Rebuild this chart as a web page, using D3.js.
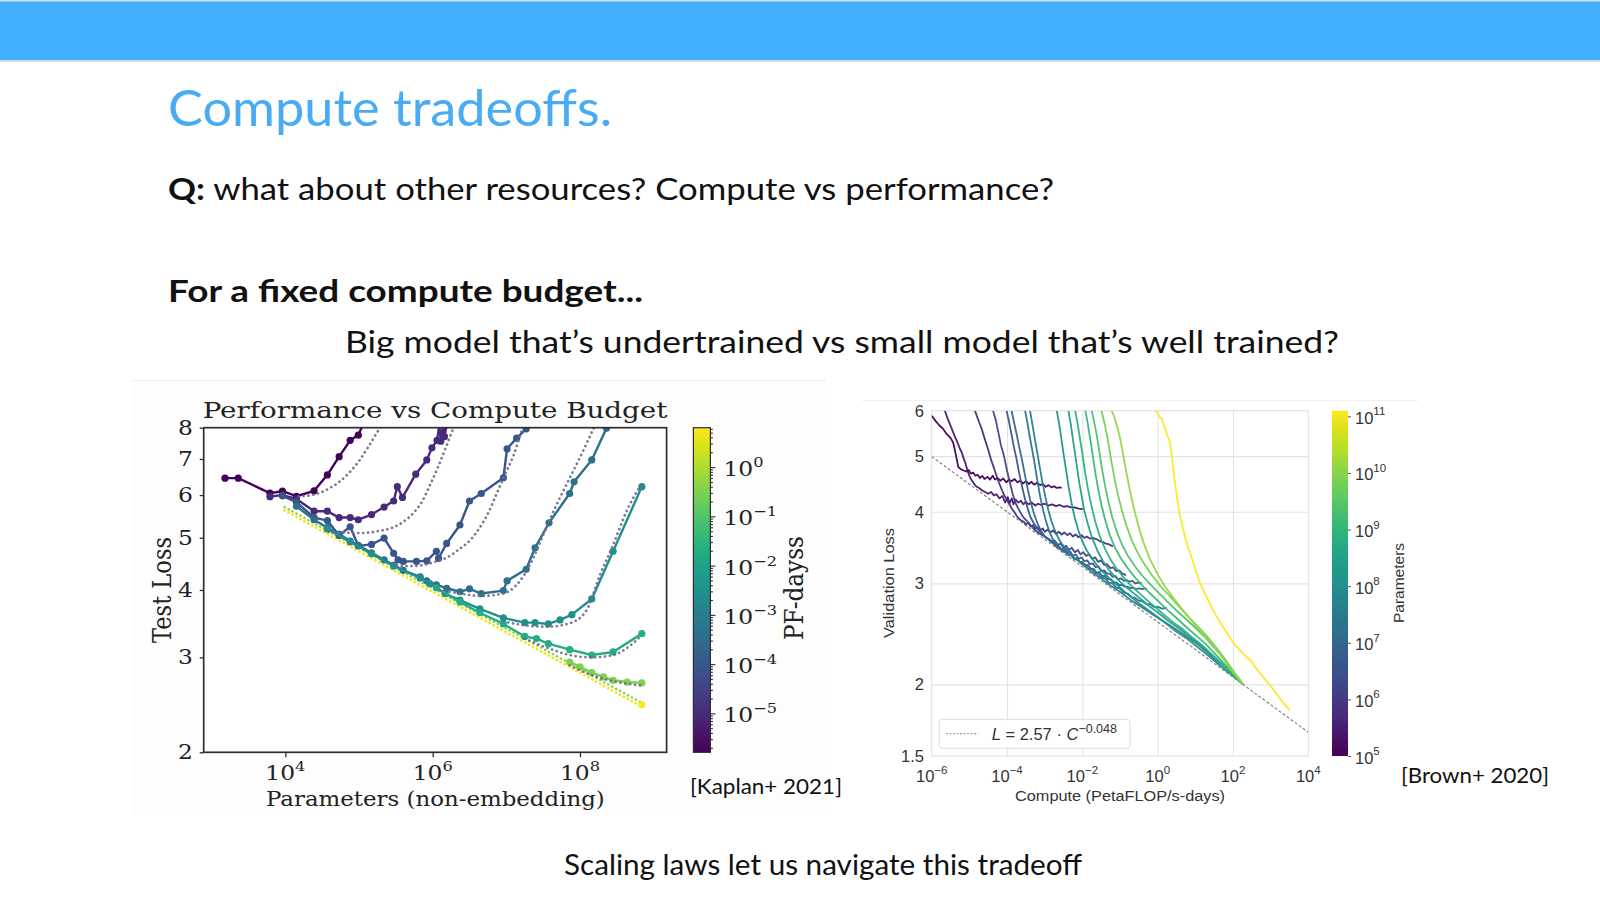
<!DOCTYPE html>
<html><head><meta charset="utf-8">
<script src="https://cdn.jsdelivr.net/npm/d3@7/dist/d3.min.js"></script>
<style>html,body{margin:0;padding:0;background:#fff;} svg{display:block;}</style>
</head><body>
<svg id="slide" width="1600" height="900"></svg>
<script>
// ---------------- slide text ----------------
const slideTitle = "Compute tradeoffs.";
const questionLead = "Q:";
const questionText = " what about other resources? Compute vs performance?";
const budgetText = "For a fixed compute budget...";
const tradeoffText = "Big model that\u2019s undertrained vs small model that\u2019s well trained?";
const footerText = "Scaling laws let us navigate this tradeoff";
const kaplanCite = "[Kaplan+ 2021]";
const brownCite = "[Brown+ 2020]";

// ---------------- Kaplan chart: [log10(params), test loss] ----------------
const kaplanTitle = "Performance vs Compute Budget";
const kaplanXLabel = "Parameters (non-embedding)";
const kaplanYLabel = "Test Loss";
const kaplanCbarLabel = "PF-dayss";
const kaplanXDomain = [778, 1.5e9];
const kaplanYDomain = [2, 8];
const kaplanCbarDomain = [-5.79, 0.8];          // log10 PF-days
const kaplanYTicks = [2, 3, 4, 5, 6, 7, 8];
const kaplanXTickExps = [4, 6, 8];
const kaplanCbarTickExps = [0, -1, -2, -3, -4, -5];
const kaplanComputeExp = [-5.75, -5.0, -4.05, -3.4, -2.5, -1.7, -0.5, 0.75];

const kaplanC1 = [[3.18,6.45],[3.36,6.45],[3.79,6.05],[3.96,6.10],[4.15,5.97],[4.39,6.11],[4.57,6.54],[4.73,7.07],[4.88,7.58],[4.99,7.75],[5.06,8.15]];
const kaplanC2 = [[3.79,5.96],[3.96,6.0],[4.15,5.90],[4.39,5.60],[4.57,5.60],[4.73,5.45],[4.88,5.45],[4.99,5.40],[5.17,5.52],[5.34,5.70],[5.47,5.85],[5.52,6.22],[5.59,5.94],[5.77,6.56],[5.92,6.97],[5.99,7.34],[6.06,7.58],[6.09,8.1],[6.11,7.55],[6.14,8.1],[6.16,7.7],[6.19,8.1]];
const kaplanC3 = [[3.96,5.98],[4.15,5.82],[4.39,5.45],[4.57,5.38],[4.73,5.05],[4.88,5.24],[4.99,4.83],[5.17,4.86],[5.34,4.99],[5.47,4.68],[5.53,4.55],[5.60,4.52],[5.78,4.52],[5.92,4.53],[6.05,4.72],[6.08,4.58],[6.19,4.88],[6.37,5.28],[6.50,5.85],[6.66,6.04],[6.96,6.46],[7.01,7.31],[7.14,7.65],[7.27,7.96],[7.32,8.2]];
const kaplanC4 = [[4.15,5.72],[4.39,5.40],[4.57,5.22],[4.73,5.08],[4.88,4.93],[4.99,4.84],[5.17,4.69],[5.34,4.55],[5.47,4.45],[5.60,4.35],[5.83,4.23],[5.92,4.16],[6.05,4.09],[6.19,4.03],[6.37,3.97],[6.50,4.02],[6.66,3.94],[6.96,3.99],[7.01,4.16],[7.27,4.37],[7.39,4.79],[7.58,5.33],[7.86,6.04],[7.92,6.35],[8.16,6.97],[8.36,7.98],[8.40,8.2]];
const kaplanC5 = [[4.57,5.19],[4.88,4.91],[5.17,4.67],[5.47,4.43],[5.83,4.21],[5.96,4.11],[6.17,3.94],[6.37,3.83],[6.64,3.69],[6.96,3.55],[7.25,3.48],[7.39,3.48],[7.57,3.46],[7.73,3.52],[7.89,3.60],[8.16,3.85],[8.45,4.72],[8.84,6.22]];
const kaplanC6 = [[6.05,4.04],[6.37,3.80],[6.64,3.63],[6.96,3.46],[7.25,3.28],[7.41,3.25],[7.57,3.18],[7.86,3.10],[8.16,3.03],[8.45,3.07],[8.84,3.32]];
const kaplanC7 = [[7.86,2.94],[8.0,2.88],[8.16,2.81],[8.32,2.76],[8.45,2.72],[8.64,2.70],[8.84,2.69]];
const kaplanC8 = [[8.84,2.45]];

const kaplanFit1 = [[4.18,5.97],[4.33,5.99],[4.47,6.06],[4.60,6.18],[4.74,6.36],[4.88,6.63],[5.01,6.97],[5.12,7.35],[5.24,7.82],[5.31,8.1]];
const kaplanFit2 = [[4.59,5.13],[4.8,5.11],[5.0,5.10],[5.25,5.14],[5.45,5.22],[5.6,5.35],[5.75,5.58],[5.86,5.85],[5.96,6.25],[6.07,6.75],[6.17,7.3],[6.26,7.85],[6.3,8.1]];
const kaplanFit3 = [[5.45,4.48],[5.6,4.43],[5.75,4.43],[5.9,4.46],[6.05,4.52],[6.2,4.6],[6.35,4.75],[6.51,4.95],[6.63,5.2],[6.74,5.51],[6.87,6.04],[6.98,6.54],[7.10,7.12],[7.19,7.76],[7.24,8.1]];
const kaplanFit4 = [[6.1,4.00],[6.37,3.94],[6.64,3.90],[6.96,3.94],[7.14,4.09],[7.32,4.45],[7.50,5.06],[7.68,5.75],[7.86,6.45],[8.04,7.23],[8.18,7.95],[8.21,8.1]];
const kaplanFit5 = [[6.96,3.50],[7.25,3.44],[7.55,3.42],[7.86,3.47],[8.09,3.67],[8.27,4.26],[8.45,4.85],[8.63,5.59],[8.84,6.31]];
const kaplanFit6 = [[7.25,3.25],[7.57,3.12],[7.86,3.03],[8.16,3.0],[8.45,3.03],[8.65,3.13],[8.84,3.30]];
const kaplanFit7 = [[7.86,2.90],[8.16,2.78],[8.45,2.71],[8.84,2.66]];
const kaplanEnvUpper = [[3.99,5.70],[8.84,2.47]];
const kaplanEnvLower = [[3.99,5.62],[8.84,2.43]];

// ---------------- Brown chart: [log10(PF-days), validation loss] ----------------
const brownXLabel = "Compute (PetaFLOP/s-days)";
const brownYLabel = "Validation Loss";
const brownCbarLabel = "Parameters";
const brownXDomain = [1e-6, 1e4];
const brownYDomain = [1.5, 6];
const brownCbarDomain = [5, 11.1];               // log10 params
const brownXTickExps = [-6, -4, -2, 0, 2, 4];
const brownYTicks = [1.5, 2, 3, 4, 5, 6];
const brownCbarTickExps = [5, 6, 7, 8, 9, 10, 11];
const brownFitLabelCoef = "2.57";
const brownFitLabelExp = "\u22120.048";
const brownFit = [[-6, 4.99], [4, 1.65]];
const brownParamExp = [5.0, 5.4, 5.8, 6.2, 6.6, 7.0, 7.3, 7.6, 8.1, 8.5, 8.9, 9.1, 9.4, 9.8, 10.1, 11.2];

const brownA = [[-6.0,5.88],[-5.9,5.76],[-5.8,5.66],[-5.69,5.57],[-5.6,5.46],[-5.5,5.38],[-5.43,5.28],[-5.38,5.1],[-5.33,4.92],[-5.29,4.78],[-5.22,4.74],[-5.15,4.72],[-5.08,4.70],[-5.02,4.73],[-4.96,4.66],[-4.9,4.68],[-4.84,4.62],[-4.78,4.64],[-4.72,4.58],[-4.66,4.62],[-4.6,4.56],[-4.52,4.6],[-4.45,4.55],[-4.38,4.62],[-4.32,4.55],[-4.25,4.58],[-4.18,4.53],[-4.1,4.57],[-4.02,4.5],[-3.95,4.55],[-3.88,4.52],[-3.8,4.56],[-3.72,4.5],[-3.65,4.53],[-3.58,4.48],[-3.5,4.52],[-3.42,4.47],[-3.35,4.51],[-3.28,4.46],[-3.2,4.49],[-3.12,4.45],[-3.05,4.47],[-2.97,4.42],[-2.9,4.45],[-2.82,4.41],[-2.75,4.43],[-2.68,4.40],[-2.6,4.41],[-2.55,4.40]];
const brownB = [[-5.65,6.0],[-5.58,5.82],[-5.5,5.65],[-5.43,5.50],[-5.37,5.38],[-5.3,5.25],[-5.25,5.15],[-5.2,5.07],[-5.15,4.95],[-5.1,4.85],[-5.05,4.72],[-5.0,4.62],[-4.95,4.55],[-4.9,4.50],[-4.85,4.45],[-4.8,4.42],[-4.72,4.39],[-4.67,4.36],[-4.58,4.33],[-4.5,4.30],[-4.42,4.33],[-4.35,4.27],[-4.28,4.29],[-4.2,4.22],[-4.12,4.26],[-4.05,4.15],[-3.98,4.24],[-3.93,4.14],[-3.87,4.22],[-3.83,4.12],[-3.77,4.2],[-3.7,4.15],[-3.63,4.18],[-3.57,4.12],[-3.5,4.16],[-3.42,4.12],[-3.35,4.15],[-3.25,4.10],[-3.18,4.13],[-3.1,4.11],[-3.0,4.13],[-2.9,4.10],[-2.8,4.12],[-2.7,4.09],[-2.6,4.11],[-2.5,4.08],[-2.4,4.09],[-2.3,4.07],[-2.2,4.07],[-2.1,4.05],[-1.99,4.04]];
const brownC = [[-4.85,6.0],[-4.8,5.87],[-4.75,5.75],[-4.67,5.57],[-4.6,5.38],[-4.5,5.13],[-4.42,4.92],[-4.32,4.71],[-4.23,4.52],[-4.14,4.37],[-4.07,4.27],[-4.0,4.2],[-3.95,4.13],[-3.9,4.08],[-3.85,4.03],[-3.8,3.99],[-3.75,3.94],[-3.7,3.90],[-3.62,3.86],[-3.55,3.84],[-3.5,3.80],[-3.43,3.83],[-3.38,3.77],[-3.3,3.79],[-3.25,3.73],[-3.18,3.76],[-3.12,3.71],[-3.05,3.74],[-3.0,3.69],[-2.92,3.72],[-2.85,3.68],[-2.78,3.71],[-2.7,3.66],[-2.62,3.69],[-2.55,3.65],[-2.48,3.68],[-2.4,3.64],[-2.33,3.67],[-2.25,3.62],[-2.18,3.65],[-2.1,3.61],[-2.02,3.64],[-1.95,3.60],[-1.88,3.62],[-1.8,3.59],[-1.72,3.6],[-1.62,3.58],[-1.52,3.55],[-1.45,3.54],[-1.38,3.52],[-1.3,3.51],[-1.19,3.48]];
const brownD = [[-4.37,6.0],[-4.3,5.78],[-4.23,5.5],[-4.16,5.22],[-4.08,5.0],[-4.0,4.72],[-3.92,4.48],[-3.85,4.3],[-3.78,4.15],[-3.7,4.05],[-3.62,3.96],[-3.55,3.9],[-3.48,3.86],[-3.4,3.8],[-3.33,3.76],[-3.25,3.71],[-3.18,3.68],[-3.1,3.65],[-3.02,3.63],[-2.95,3.60],[-2.88,3.58],[-2.8,3.55],[-2.73,3.56],[-2.65,3.50],[-2.58,3.52],[-2.5,3.46],[-2.43,3.49],[-2.36,3.43],[-2.28,3.46],[-2.2,3.40],[-2.12,3.43],[-2.05,3.37],[-1.98,3.40],[-1.9,3.35],[-1.82,3.37],[-1.74,3.31],[-1.66,3.33],[-1.58,3.27],[-1.5,3.29],[-1.42,3.23],[-1.34,3.24],[-1.26,3.19],[-1.18,3.2],[-1.1,3.15],[-1.02,3.16],[-0.94,3.12],[-0.84,3.10]];
const brownE = [[-4.01,6.0],[-3.95,5.75],[-3.88,5.45],[-3.82,5.2],[-3.75,4.95],[-3.68,4.68],[-3.6,4.42],[-3.52,4.2],[-3.45,4.05],[-3.38,3.92],[-3.3,3.83],[-3.22,3.76],[-3.15,3.70],[-3.07,3.66],[-3.0,3.62],[-2.93,3.6],[-2.86,3.56],[-2.78,3.54],[-2.7,3.50],[-2.62,3.48],[-2.55,3.44],[-2.47,3.45],[-2.4,3.39],[-2.32,3.41],[-2.25,3.35],[-2.17,3.37],[-2.1,3.31],[-2.02,3.33],[-1.95,3.28],[-1.87,3.29],[-1.8,3.24],[-1.72,3.25],[-1.65,3.2],[-1.57,3.21],[-1.5,3.15],[-1.42,3.16],[-1.35,3.12],[-1.27,3.12],[-1.2,3.08],[-1.12,3.09],[-1.05,3.05],[-0.97,3.06],[-0.9,3.03],[-0.82,3.04],[-0.75,3.02],[-0.67,3.03],[-0.6,3.0],[-0.5,3.01],[-0.42,3.0]];
const brownF = [[-3.88,6.0],[-3.82,5.75],[-3.75,5.48],[-3.68,5.2],[-3.6,4.92],[-3.52,4.62],[-3.45,4.38],[-3.38,4.18],[-3.3,4.0],[-3.22,3.86],[-3.14,3.75],[-3.06,3.67],[-2.98,3.61],[-2.9,3.58],[-2.82,3.54],[-2.75,3.51],[-2.68,3.47],[-2.6,3.45],[-2.52,3.41],[-2.45,3.40],[-2.37,3.36],[-2.3,3.36],[-2.22,3.31],[-2.15,3.32],[-2.07,3.27],[-2.0,3.27],[-1.92,3.22],[-1.85,3.23],[-1.77,3.18],[-1.7,3.18],[-1.62,3.13],[-1.55,3.14],[-1.47,3.09],[-1.4,3.09],[-1.32,3.05],[-1.25,3.05],[-1.17,3.01],[-1.1,3.01],[-1.02,2.98],[-0.95,2.98],[-0.87,2.96],[-0.8,2.96],[-0.72,2.94],[-0.65,2.95],[-0.57,2.93],[-0.5,2.94],[-0.4,2.93],[-0.29,2.94]];
const brownG = [[-3.52,6.0],[-3.46,5.72],[-3.4,5.42],[-3.33,5.12],[-3.26,4.82],[-3.19,4.52],[-3.12,4.25],[-3.04,4.02],[-2.96,3.84],[-2.88,3.7],[-2.8,3.6],[-2.72,3.53],[-2.64,3.48],[-2.55,3.44],[-2.47,3.42],[-2.38,3.37],[-2.3,3.36],[-2.21,3.31],[-2.12,3.30],[-2.03,3.25],[-1.94,3.24],[-1.85,3.19],[-1.76,3.18],[-1.67,3.13],[-1.58,3.12],[-1.49,3.07],[-1.4,3.06],[-1.3,3.01],[-1.2,3.0],[-1.1,2.95],[-1.0,2.94],[-0.9,2.89],[-0.8,2.88],[-0.7,2.84],[-0.6,2.83],[-0.5,2.8],[-0.4,2.79],[-0.3,2.76],[-0.2,2.76],[-0.1,2.73],[0.0,2.73],[0.12,2.71],[0.24,2.72]];
const brownH = [[-3.39,6.0],[-3.33,5.7],[-3.27,5.4],[-3.2,5.08],[-3.13,4.78],[-3.06,4.5],[-2.98,4.24],[-2.9,4.02],[-2.82,3.85],[-2.73,3.71],[-2.64,3.6],[-2.55,3.52],[-2.46,3.46],[-2.37,3.4],[-2.28,3.36],[-2.19,3.31],[-2.1,3.28],[-2.0,3.24],[-1.9,3.2],[-1.8,3.16],[-1.7,3.12],[-1.6,3.09],[-1.5,3.06],[-1.4,3.02],[-1.3,2.99],[-1.2,2.96],[-1.1,2.93],[-1.0,2.9],[-0.85,2.85],[-0.7,2.8],[-0.55,2.76],[-0.4,2.72],[-0.25,2.68],[-0.1,2.64],[0.1,2.59],[0.3,2.54],[0.5,2.49],[0.7,2.44],[0.9,2.39],[1.1,2.34],[1.3,2.28],[1.5,2.21],[1.65,2.16]];
const brownI = [[-2.68,6.0],[-2.62,5.72],[-2.56,5.38],[-2.5,5.05],[-2.43,4.72],[-2.36,4.4],[-2.28,4.12],[-2.2,3.9],[-2.1,3.7],[-2.0,3.55],[-1.88,3.42],[-1.75,3.32],[-1.6,3.22],[-1.45,3.14],[-1.3,3.07],[-1.15,3.01],[-1.0,2.95],[-0.85,2.89],[-0.7,2.84],[-0.5,2.77],[-0.3,2.71],[-0.1,2.65],[0.1,2.59],[0.3,2.53],[0.5,2.47],[0.75,2.41],[1.0,2.34],[1.25,2.27],[1.5,2.2],[1.75,2.13],[2.0,2.07],[2.27,2.0]];
const brownJ = [[-2.37,6.0],[-2.31,5.7],[-2.25,5.35],[-2.18,4.98],[-2.11,4.62],[-2.03,4.3],[-1.95,4.02],[-1.85,3.8],[-1.74,3.6],[-1.6,3.42],[-1.45,3.28],[-1.3,3.17],[-1.15,3.09],[-1.0,3.02],[-0.8,2.94],[-0.6,2.87],[-0.4,2.8],[-0.2,2.73],[0.0,2.67],[0.25,2.59],[0.5,2.52],[0.75,2.45],[1.0,2.38],[1.25,2.31],[1.5,2.23],[1.75,2.15],[2.0,2.08],[2.27,2.0]];
const brownK = [[-2.19,6.0],[-2.13,5.72],[-2.07,5.4],[-2.0,5.05],[-1.93,4.7],[-1.85,4.38],[-1.76,4.1],[-1.66,3.85],[-1.54,3.63],[-1.4,3.45],[-1.25,3.3],[-1.1,3.19],[-0.9,3.07],[-0.7,2.97],[-0.5,2.89],[-0.3,2.81],[-0.1,2.74],[0.15,2.65],[0.4,2.57],[0.65,2.5],[0.9,2.42],[1.15,2.35],[1.4,2.27],[1.65,2.19],[1.9,2.11],[2.1,2.05],[2.27,2.0]];
const brownL = [[-1.92,6.0],[-1.86,5.72],[-1.8,5.4],[-1.73,5.05],[-1.66,4.7],[-1.58,4.38],[-1.49,4.1],[-1.39,3.86],[-1.27,3.64],[-1.13,3.46],[-0.97,3.31],[-0.8,3.19],[-0.6,3.07],[-0.4,2.97],[-0.2,2.88],[0.0,2.8],[0.25,2.7],[0.5,2.61],[0.75,2.52],[1.0,2.44],[1.25,2.36],[1.5,2.27],[1.75,2.18],[2.0,2.09],[2.27,2.0]];
const brownM = [[-1.75,6.0],[-1.69,5.75],[-1.62,5.45],[-1.55,5.1],[-1.48,4.76],[-1.4,4.45],[-1.31,4.17],[-1.21,3.92],[-1.09,3.7],[-0.95,3.51],[-0.79,3.35],[-0.6,3.21],[-0.4,3.09],[-0.2,2.99],[0.0,2.9],[0.25,2.79],[0.5,2.69],[0.75,2.6],[1.0,2.51],[1.25,2.42],[1.5,2.32],[1.75,2.22],[2.0,2.11],[2.27,2.0]];
const brownN = [[-1.49,6.0],[-1.43,5.78],[-1.36,5.5],[-1.29,5.18],[-1.22,4.86],[-1.14,4.55],[-1.05,4.27],[-0.95,4.02],[-0.83,3.78],[-0.69,3.57],[-0.53,3.39],[-0.35,3.24],[-0.15,3.1],[0.05,2.98],[0.3,2.86],[0.55,2.74],[0.8,2.63],[1.05,2.53],[1.3,2.43],[1.55,2.32],[1.8,2.21],[2.05,2.09],[2.27,2.0]];
const brownO = [[-1.22,6.0],[-1.15,5.85],[-1.08,5.65],[-1.0,5.38],[-0.92,5.05],[-0.84,4.72],[-0.75,4.4],[-0.65,4.1],[-0.52,3.8],[-0.38,3.54],[-0.2,3.3],[0.0,3.11],[0.2,2.96],[0.45,2.81],[0.7,2.68],[0.95,2.56],[1.2,2.45],[1.45,2.35],[1.7,2.24],[1.95,2.12],[2.15,2.04],[2.27,2.0]];
const brownY = [[-0.07,6.0],[0.0,5.95],[0.05,5.85],[0.11,5.81],[0.18,5.62],[0.25,5.45],[0.33,5.28],[0.38,5.0],[0.42,4.72],[0.46,4.49],[0.52,4.2],[0.59,3.94],[0.68,3.72],[0.77,3.53],[0.9,3.33],[1.0,3.18],[1.12,3.01],[1.3,2.84],[1.45,2.71],[1.57,2.62],[1.75,2.51],[2.01,2.36],[2.25,2.27],[2.5,2.19],[2.62,2.13],[2.8,2.06],[3.07,1.96],[3.3,1.87],[3.51,1.80]];

// ---------------- drawing ----------------
const svg = d3.select('#slide');
const defs = svg.append('defs');
const SANS = 'Lato, "Open Sans", "Noto Sans", sans-serif';
const SERIF = '"DejaVu Serif", serif';
const ARIAL = '"Liberation Sans", Arial, sans-serif';
const minus = e => (e < 0 ? '\u2212' + Math.abs(e) : String(e));

// header bar
svg.append('rect').attr('x',0).attr('y',0).attr('width',1600).attr('height',62).attr('fill','#d4dce1');
svg.append('rect').attr('x',0).attr('y',1.5).attr('width',1600).attr('height',58.5).attr('fill','#42aeff');

// image backgrounds (behind everything else)
svg.append('rect').attr('x',132).attr('y',380).attr('width',694).attr('height',436).attr('fill','#fdfdfd');
svg.append('line').attr('x1',132).attr('x2',826).attr('y1',380.5).attr('y2',380.5).attr('stroke','#ededed');
svg.append('line').attr('x1',862).attr('x2',1418).attr('y1',400.5).attr('y2',400.5).attr('stroke','#f0f0f0');

function slideText(x, y, size, len, parts, fill) {
  const t = svg.append('text').attr('x',x).attr('y',y).attr('font-family',SANS)
    .attr('font-size',size).attr('fill',fill || '#111')
    .attr('textLength',len).attr('lengthAdjust','spacingAndGlyphs');
  parts.forEach(p => t.append('tspan').attr('font-weight', p[1] || 'normal').text(p[0]));
  return t;
}
slideText(168, 126, 50, 444, [[slideTitle]], '#47acf4');
slideText(168, 200, 30, 886, [[questionLead,'bold'],[questionText]]);
slideText(168, 301.5, 30, 475, [[budgetText,'bold']]);
slideText(345, 353, 30, 994, [[tradeoffText]]);
slideText(564, 875, 29, 518, [[footerText]]);
slideText(690, 794, 22, 152, [[kaplanCite]]);
slideText(1401, 783, 22, 148, [[brownCite]]);

function vGradient(id) {
  const g = defs.append('linearGradient').attr('id',id).attr('x1',0).attr('y1',1).attr('x2',0).attr('y2',0);
  d3.range(0, 1.0001, 0.05).forEach(t => g.append('stop').attr('offset', t).attr('stop-color', d3.interpolateViridis(t)));
}
vGradient('viridisK'); vGradient('viridisB');

function supText(parent, base, exp, expSize, rise) {
  parent.append('tspan').text(base);
  parent.append('tspan').attr('font-size', expSize).attr('dy', -rise).text(exp);
}
// horizontally stretched text (the Kaplan figure was scaled wider than tall)
function stretchedText(x, y, width, size, str) {
  const g = svg.append('g');
  const t = g.append('text').attr('font-family',SERIF).attr('font-size',size).attr('fill','#222').text(str);
  const natural = t.node().getComputedTextLength();
  g.attr('transform', `translate(${x},${y}) scale(${width / natural},1)`);
}

// ======== Kaplan chart ========
const KL = 203.7, KR = 666.6, KT = 427.7, KB = 752.3, KS = 1.2;
const kx = d3.scaleLog().domain(kaplanXDomain).range([KL, KR]);
const ky = d3.scaleLog().domain(kaplanYDomain).range([KB, KT]);
const kc = d3.scaleLinear().domain(kaplanCbarDomain).range([KB, KT]);
const kColor = d3.scaleSequential(d3.interpolateViridis).domain(kaplanCbarDomain);

svg.append('rect').attr('x',KL).attr('y',KT).attr('width',KR-KL).attr('height',KB-KT).attr('fill','#fff');
defs.append('clipPath').attr('id','kclip').append('rect').attr('x',KL).attr('y',KT).attr('width',KR-KL).attr('height',KB-KT);
const kg = svg.append('g').attr('clip-path','url(#kclip)');
const kLine = d3.line().x(d => kx(Math.pow(10, d[0]))).y(d => ky(d[1]));

// envelope (dotted)
kg.append('path').datum(kaplanEnvLower).attr('d',kLine).attr('fill','none').attr('stroke','#f4e61e')
  .attr('stroke-width',2.8).attr('stroke-dasharray','0.1,4.4').attr('stroke-linecap','round');
kg.append('path').datum(kaplanEnvUpper).attr('d',kLine).attr('fill','none').attr('stroke','#8cd34a')
  .attr('stroke-width',2.6).attr('stroke-dasharray','0.1,4.4').attr('stroke-linecap','round');

const kaplanCurves = [kaplanC1,kaplanC2,kaplanC3,kaplanC4,kaplanC5,kaplanC6,kaplanC7,kaplanC8];
const kaplanFits = [kaplanFit1,kaplanFit2,kaplanFit3,kaplanFit4,kaplanFit5,kaplanFit6,kaplanFit7];
kaplanCurves.forEach((c, i) => {
  const col = kColor(kaplanComputeExp[i]);
  kg.append('path').datum(c).attr('d',kLine).attr('fill','none').attr('stroke',col)
    .attr('stroke-width',2.4).attr('stroke-linejoin','round');
  kg.selectAll(null).data(c).enter().append('circle')
    .attr('cx', d => kx(Math.pow(10, d[0]))).attr('cy', d => ky(d[1])).attr('r', 3.6).attr('fill', col);
});
kaplanFits.forEach(f => {
  kg.append('path').datum(f).attr('d', d3.line().curve(d3.curveMonotoneX).x(d => kx(Math.pow(10,d[0]))).y(d => ky(d[1])))
    .attr('fill','none').attr('stroke','#6e6c86').attr('stroke-width',2.7)
    .attr('stroke-dasharray','0.1,4.8').attr('stroke-linecap','round').attr('opacity',0.9);
});

// frame
svg.append('rect').attr('x',KL).attr('y',KT).attr('width',KR-KL).attr('height',KB-KT)
  .attr('fill','none').attr('stroke','#2e2e2e').attr('stroke-width',1.7);

// y ticks
const kyAxis = svg.append('g').attr('transform',`translate(${KL},0)`)
  .call(d3.axisLeft(ky).tickValues(kaplanYTicks).tickFormat('').tickSize(4).tickSizeOuter(0));
kyAxis.select('.domain').remove();
kyAxis.selectAll('line').attr('stroke','#2e2e2e').attr('stroke-width',1.3);
kaplanYTicks.forEach(v => {
  svg.append('g').attr('transform',`translate(193,${ky(v)+7}) scale(${KS},1)`)
    .append('text').attr('text-anchor','end').attr('font-family',SERIF).attr('font-size',19.5)
    .attr('fill','#222').text(v);
});
// x ticks
const kxAxis = svg.append('g').attr('transform',`translate(0,${KB})`)
  .call(d3.axisBottom(kx).tickValues(kaplanXTickExps.map(e => Math.pow(10,e))).tickFormat('').tickSize(5).tickSizeOuter(0));
kxAxis.select('.domain').remove();
kxAxis.selectAll('line').attr('stroke','#2e2e2e').attr('stroke-width',1.3);
kaplanXTickExps.forEach(e => {
  const t = svg.append('g').attr('transform',`translate(${kx(Math.pow(10,e))},780) scale(${KS},1)`)
    .append('text').attr('text-anchor','middle').attr('font-family',SERIF).attr('font-size',19.5).attr('fill','#222');
  supText(t, '10', minus(e), 13.5, 9);
});
// title & labels
stretchedText(KL - 1, 418, 465, 21.5, kaplanTitle);
stretchedText(266, 806, 339, 20.5, kaplanXLabel);
svg.append('g').attr('transform',`translate(171,590) scale(${KS},1) rotate(-90)`)
  .append('text').attr('text-anchor','middle').attr('font-family',SERIF).attr('font-size',21).attr('fill','#222')
  .attr('textLength',106).attr('lengthAdjust','spacingAndGlyphs').text(kaplanYLabel);

// colorbar
const KCX = 693.4, KCW = 17;
svg.append('rect').attr('x',KCX).attr('y',KT).attr('width',KCW).attr('height',KB-KT).attr('fill','url(#viridisK)')
  .attr('stroke','#2e2e2e').attr('stroke-width',1.2);
const kMinor = [];
for (let e = -6; e <= 0; e++) for (let k = 2; k <= 9; k++) {
  const v = e + Math.log10(k);
  if (v > kaplanCbarDomain[0] && v < kaplanCbarDomain[1]) kMinor.push(v);
}
const kcAxis = svg.append('g').attr('transform',`translate(${KCX+KCW},0)`);
kcAxis.call(d3.axisRight(kc).tickValues(kMinor).tickFormat('').tickSize(2.5).tickSizeOuter(0));
kcAxis.call(g => g.append('g').call(d3.axisRight(kc).tickValues(kaplanCbarTickExps).tickFormat('').tickSize(5).tickSizeOuter(0)));
kcAxis.selectAll('.domain').remove();
kcAxis.selectAll('line').attr('stroke','#2e2e2e').attr('stroke-width',1.1);
kaplanCbarTickExps.forEach(e => {
  const t = svg.append('g').attr('transform',`translate(723.5,${kc(e)+9}) scale(${KS},1)`)
    .append('text').attr('font-family',SERIF).attr('font-size',19.5).attr('fill','#222');
  supText(t, '10', minus(e), 13.5, 9);
});
svg.append('g').attr('transform',`translate(803,588) scale(${KS},1) rotate(-90)`)
  .append('text').attr('text-anchor','middle').attr('font-family',SERIF).attr('font-size',21).attr('fill','#222')
  .attr('textLength',104).attr('lengthAdjust','spacingAndGlyphs').text(kaplanCbarLabel);

// ======== Brown chart ========
const BL = 931.7, BR = 1308.3, BT = 410.7, BB = 756;
const bx = d3.scaleLog().domain(brownXDomain).range([BL, BR]);
const by = d3.scaleLog().domain(brownYDomain).range([BB, BT]);
const bc = d3.scaleLinear().domain(brownCbarDomain).range([BB, BT]);
const bColor = d3.scaleSequential(d3.interpolateViridis).domain(brownCbarDomain);

// grid
const bgx = svg.append('g').attr('transform',`translate(0,${BB})`)
  .call(d3.axisBottom(bx).tickValues(brownXTickExps.slice(1,-1).map(e => Math.pow(10,e))).tickFormat('').tickSize(-(BB-BT)).tickSizeOuter(0));
const bgy = svg.append('g').attr('transform',`translate(${BL},0)`)
  .call(d3.axisLeft(by).tickValues(brownYTicks.slice(1,-1)).tickFormat('').tickSize(-(BR-BL)).tickSizeOuter(0));
[bgx, bgy].forEach(g => { g.select('.domain').remove(); g.selectAll('line').attr('stroke','#e3e3e3').attr('stroke-width',1.1); });
svg.append('rect').attr('x',BL).attr('y',BT).attr('width',BR-BL).attr('height',BB-BT)
  .attr('fill','none').attr('stroke','#e0e0e0').attr('stroke-width',1.1);

defs.append('clipPath').attr('id','bclip').append('rect').attr('x',BL).attr('y',BT).attr('width',BR-BL).attr('height',BB-BT);
const bg = svg.append('g').attr('clip-path','url(#bclip)');
const bLine = d3.line().x(d => bx(Math.pow(10, d[0]))).y(d => by(d[1]));

bg.append('path').datum(brownFit).attr('d',bLine).attr('fill','none').attr('stroke','#857a82')
  .attr('stroke-width',1.1).attr('stroke-dasharray','3,2');

const brownCurves = [brownA,brownB,brownC,brownD,brownE,brownF,brownG,brownH,brownI,brownJ,brownK,brownL,brownM,brownN,brownO,brownY];
brownCurves.forEach((c, i) => {
  bg.append('path').datum(c).attr('d',bLine).attr('fill','none').attr('stroke',bColor(brownParamExp[i]))
    .attr('stroke-width',1.8).attr('stroke-linejoin','round').attr('opacity',0.95);
});

// tick labels
brownYTicks.forEach(v => {
  svg.append('text').attr('x',924).attr('y',by(v)+6).attr('text-anchor','end').attr('font-family',ARIAL)
    .attr('font-size',16.5).attr('fill','#333').text(v);
});
brownXTickExps.forEach(e => {
  const t = svg.append('text').attr('x',bx(Math.pow(10,e))).attr('y',782).attr('text-anchor','middle')
    .attr('font-family',ARIAL).attr('font-size',16.5).attr('fill','#333');
  supText(t, '10', minus(e), 11.5, 8.5);
});
svg.append('text').attr('x',(BL+BR)/2).attr('y',800.5).attr('text-anchor','middle').attr('font-family',ARIAL)
  .attr('font-size',15.5).attr('fill','#333').attr('textLength',210).attr('lengthAdjust','spacingAndGlyphs').text(brownXLabel);
svg.append('text').attr('transform','translate(894,583) rotate(-90)').attr('text-anchor','middle').attr('font-family',ARIAL)
  .attr('font-size',15.5).attr('fill','#333').attr('textLength',110).attr('lengthAdjust','spacingAndGlyphs').text(brownYLabel);

// legend
svg.append('rect').attr('x',939.3).attr('y',719.3).attr('width',190.7).attr('height',29).attr('rx',3)
  .attr('fill','#fff').attr('fill-opacity',0.9).attr('stroke','#dcdcdc').attr('stroke-width',1);
svg.append('line').attr('x1',946).attr('x2',978).attr('y1',733.8).attr('y2',733.8)
  .attr('stroke','#8c8488').attr('stroke-width',1.1).attr('stroke-dasharray','2,1.5');
const lt = svg.append('text').attr('x',991.7).attr('y',740).attr('font-family',ARIAL).attr('font-size',16.5).attr('fill','#333');
lt.append('tspan').attr('font-style','italic').text('L');
lt.append('tspan').text(' = ' + brownFitLabelCoef + ' \u00b7 ');
lt.append('tspan').attr('font-style','italic').text('C');
lt.append('tspan').attr('font-size',12.5).attr('dy',-7).text(brownFitLabelExp);

// colorbar
const BCX = 1332, BCW = 16;
svg.append('rect').attr('x',BCX).attr('y',BT).attr('width',BCW).attr('height',BB-BT).attr('fill','url(#viridisB)');
const bcAxis = svg.append('g').attr('transform',`translate(${BCX+BCW},0)`)
  .call(d3.axisRight(bc).tickValues(brownCbarTickExps).tickFormat('').tickSize(3).tickSizeOuter(0));
bcAxis.select('.domain').remove();
bcAxis.selectAll('line').attr('stroke','#555').attr('stroke-width',1);
brownCbarTickExps.forEach(e => {
  const t = svg.append('text').attr('x',1355).attr('y',bc(e)+7.5).attr('font-family',ARIAL)
    .attr('font-size',16.5).attr('fill','#333');
  supText(t, '10', e, 11.5, 8.5);
});
svg.append('text').attr('transform','translate(1404,583) rotate(-90)').attr('text-anchor','middle').attr('font-family',ARIAL)
  .attr('font-size',15.5).attr('fill','#333').text(brownCbarLabel);
</script>
</body></html>
